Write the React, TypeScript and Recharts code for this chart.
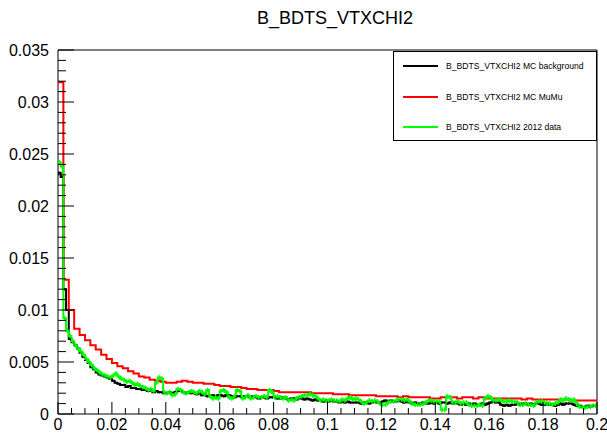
import React from 'react';
import { ComposedChart, Line, XAxis, YAxis, ReferenceArea, ErrorBar, Legend } from 'recharts';

// Histogram ranges and binning
const X_MAX = 0.2;
const Y_MAX = 0.035;
const FINE_BIN = 0.001; // MC background and 2012 data
const COARSE_BIN = 0.002; // MC MuMu

const TITLE = 'B_BDTS_VTXCHI2';
const NAME_BKG = 'B_BDTS_VTXCHI2 MC background';
const NAME_MUMU = 'B_BDTS_VTXCHI2 MC MuMu';
const NAME_DATA = 'B_BDTS_VTXCHI2 2012 data';
const LEGEND_ORDER = [NAME_BKG, NAME_MUMU, NAME_DATA];

// Major tick values (labels) on each axis
const X_MAJOR = [0, 0.02, 0.04, 0.06, 0.08, 0.1, 0.12, 0.14, 0.16, 0.18, 0.2];
const Y_MAJOR = [0, 0.005, 0.01, 0.015, 0.02, 0.025, 0.03, 0.035];

// MC background, 200 bins of 0.001
const mcBackground = [
  0.0232, 0.0228, 0.0120, 0.0100, 0.0072, 0.0069, 0.0066, 0.0063, 0.0059, 0.0055,
  0.0052, 0.0049, 0.0045, 0.0043, 0.0040, 0.0038, 0.0037, 0.0036, 0.0035, 0.0034,
  0.0032, 0.0030, 0.0029, 0.0028, 0.0028, 0.0026, 0.0027, 0.0025, 0.0025, 0.0024,
  0.0024, 0.0023, 0.0023, 0.0022, 0.0023, 0.0021, 0.0022, 0.0021, 0.0021, 0.0020,
  0.0020, 0.0021, 0.0020, 0.0021, 0.0022, 0.0022, 0.0021, 0.0020, 0.0021, 0.0020,
  0.0020, 0.0019, 0.0020, 0.0018, 0.0019, 0.0017, 0.0018, 0.0018, 0.0017, 0.0018,
  0.0018, 0.0017, 0.0018, 0.0018, 0.0017, 0.0016, 0.0017, 0.0017, 0.0016, 0.0017,
  0.0017, 0.0016, 0.0017, 0.0016, 0.0015, 0.0016, 0.0016, 0.0015, 0.0016, 0.0016,
  0.0016, 0.0015, 0.0015, 0.0016, 0.0015, 0.0014, 0.0015, 0.0015, 0.0014, 0.0015,
  0.0015, 0.0014, 0.0015, 0.0014, 0.0013, 0.0014, 0.0013, 0.0013, 0.0012, 0.0013,
  0.0012, 0.0013, 0.0012, 0.0012, 0.0011, 0.0012, 0.0011, 0.0012, 0.0011, 0.0011,
  0.0011, 0.0011, 0.0010, 0.0011, 0.0011, 0.0010, 0.0011, 0.0012, 0.0011, 0.0011,
  0.0012, 0.0013, 0.0012, 0.0013, 0.0012, 0.0012, 0.0013, 0.0012, 0.0011, 0.0012,
  0.0011, 0.0010, 0.0011, 0.0010, 0.0010, 0.0011, 0.0010, 0.0010, 0.0011, 0.0010,
  0.0011, 0.0010, 0.0011, 0.0011, 0.0010, 0.0011, 0.0010, 0.0011, 0.0010, 0.0009,
  0.0010, 0.0009, 0.0010, 0.0009, 0.0010, 0.0009, 0.0009, 0.0010, 0.0009, 0.0010,
  0.0011, 0.0012, 0.0011, 0.0011, 0.0009, 0.0008, 0.0009, 0.0008, 0.0009, 0.0009,
  0.0010, 0.0009, 0.0010, 0.0010, 0.0009, 0.0010, 0.0009, 0.0010, 0.0010, 0.0009,
  0.0009, 0.0010, 0.0009, 0.0009, 0.0008, 0.0009, 0.0010, 0.0009, 0.0010, 0.0010,
  0.0010, 0.0009, 0.0008, 0.0008, 0.0007, 0.0007, 0.0008, 0.0007, 0.0008, 0.0008,
];

// MC MuMu, 100 bins of 0.002
const mcMuMu = [
  0.0319, 0.0129, 0.0100, 0.0082, 0.0076, 0.0071, 0.0066, 0.0062, 0.0057, 0.0053,
  0.0049, 0.0046, 0.0044, 0.0041, 0.0039, 0.0036, 0.0035, 0.0033, 0.0032, 0.0031,
  0.0030, 0.0030, 0.0031, 0.0032, 0.0031, 0.0030, 0.0030, 0.0029, 0.0029, 0.0028,
  0.0027, 0.0027, 0.0026, 0.0026, 0.0025, 0.0024, 0.0024, 0.0023, 0.0023, 0.0023,
  0.0022, 0.0021, 0.0021, 0.0021, 0.0021, 0.0021, 0.0021, 0.0020, 0.0020, 0.0020,
  0.0020, 0.0019, 0.0019, 0.0019, 0.0018, 0.0018, 0.0018, 0.0018, 0.0018, 0.0017,
  0.0017, 0.0017, 0.0017, 0.0016, 0.0017, 0.0016, 0.0016, 0.0016, 0.0016, 0.0015,
  0.0015, 0.0016, 0.0016, 0.0016, 0.0015, 0.0016, 0.0016, 0.0015, 0.0016, 0.0015,
  0.0015, 0.0015, 0.0015, 0.0015, 0.0015, 0.0015, 0.0014, 0.0015, 0.0014, 0.0014,
  0.0014, 0.0014, 0.0014, 0.0014, 0.0014, 0.0013, 0.0013, 0.0013, 0.0013, 0.0013,
];

// 2012 data, 200 bins of 0.001
const data2012 = [
  0.0242, 0.0238, 0.0092, 0.0080, 0.0075, 0.0070, 0.0066, 0.0063, 0.0060, 0.0057,
  0.0053, 0.0050, 0.0047, 0.0044, 0.0042, 0.0040, 0.0038, 0.0037, 0.0036, 0.0035,
  0.0037, 0.0039, 0.0036, 0.0034, 0.0033, 0.0031, 0.0032, 0.0030, 0.0028, 0.0029,
  0.0027, 0.0026, 0.0025, 0.0023, 0.0024, 0.0022, 0.0030, 0.0035, 0.0034, 0.0021,
  0.0020, 0.0021, 0.0018, 0.0019, 0.0024, 0.0023, 0.0021, 0.0020, 0.0021, 0.0022,
  0.0021, 0.0020, 0.0022, 0.0021, 0.0019, 0.0023, 0.0017, 0.0015, 0.0016, 0.0015,
  0.0022, 0.0023, 0.0021, 0.0016, 0.0015, 0.0017, 0.0023, 0.0022, 0.0015, 0.0016,
  0.0018, 0.0015, 0.0016, 0.0017, 0.0016, 0.0016, 0.0017, 0.0016, 0.0023, 0.0021,
  0.0016, 0.0017, 0.0016, 0.0015, 0.0016, 0.0013, 0.0014, 0.0013, 0.0015, 0.0016,
  0.0017, 0.0018, 0.0018, 0.0019, 0.0018, 0.0017, 0.0015, 0.0013, 0.0014, 0.0013,
  0.0013, 0.0014, 0.0013, 0.0013, 0.0012, 0.0014, 0.0013, 0.0015, 0.0016, 0.0014,
  0.0015, 0.0014, 0.0012, 0.0010, 0.0011, 0.0013, 0.0012, 0.0013, 0.0012, 0.0010,
  0.0009, 0.0009, 0.0011, 0.0012, 0.0012, 0.0013, 0.0014, 0.0014, 0.0013, 0.0014,
  0.0012, 0.0010, 0.0009, 0.0009, 0.0009, 0.0010, 0.0011, 0.0013, 0.0013, 0.0012,
  0.0012, 0.0012, 0.0004, 0.0004, 0.0017, 0.0016, 0.0011, 0.0011, 0.0012, 0.0010,
  0.0011, 0.0011, 0.0009, 0.0008, 0.0008, 0.0008, 0.0009, 0.0008, 0.0015, 0.0017,
  0.0016, 0.0013, 0.0013, 0.0014, 0.0013, 0.0012, 0.0012, 0.0013, 0.0012, 0.0012,
  0.0011, 0.0009, 0.0009, 0.0010, 0.0009, 0.0009, 0.0008, 0.0011, 0.0012, 0.0012,
  0.0011, 0.0010, 0.0010, 0.0009, 0.0010, 0.0011, 0.0014, 0.0013, 0.0015, 0.0014,
  0.0013, 0.0014, 0.0010, 0.0007, 0.0007, 0.0006, 0.0007, 0.0007, 0.0008, 0.0008,
];
const DATA_ERR = 0.00022;
const BKG_ERR = 0.0001;

const COLORS = { bkg: '#000000', mumu: '#ff0000', data: '#00ff00' };
const FONT = '"Liberation Sans", Arial, Helvetica, sans-serif';

// Step outline: one point per lower bin edge plus the closing upper edge
function toSteps(values: number[], bin: number) {
  const pts = values.map((v, i) => ({ x: +(i * bin).toFixed(4), v }));
  pts.push({ x: +(values.length * bin).toFixed(4), v: values[values.length - 1] });
  return pts;
}

// Bin centres carrying the uncertainty for the error bars
function toCentres(values: number[], bin: number, err: number) {
  return values.map((v, i) => ({ x: +((i + 0.5) * bin).toFixed(5), v, e: err }));
}

// Minor tick subdivisions between major ticks
function subdivide(major: number[], parts: number) {
  const out: number[] = [];
  for (let i = 0; i < major.length - 1; i++) {
    const step = (major[i + 1] - major[i]) / parts;
    for (let k = 0; k < parts; k++) out.push(+(major[i] + k * step).toFixed(5));
  }
  out.push(major[major.length - 1]);
  return out;
}

const X_TICKS = subdivide(X_MAJOR, 4);
const Y_TICKS = subdivide(Y_MAJOR, 5);

const bkgSteps = toSteps(mcBackground, FINE_BIN);
const mumuSteps = toSteps(mcMuMu, COARSE_BIN);
const dataSteps = toSteps(data2012, FINE_BIN);
const dataCentres = toCentres(data2012, FINE_BIN, DATA_ERR);
const bkgCentres = toCentres(mcBackground, FINE_BIN, BKG_ERR);

const isMajor = (v: number, list: number[]) => list.some((m) => Math.abs(m - v) < 1e-7);
const fmt = (v: number) => String(Number(v.toFixed(4)));

function YTick(props: any) {
  const { x, y, payload } = props;
  const major = isMajor(payload.value, Y_MAJOR);
  return (
    <g>
      <line x1={x} x2={x + (major ? 16 : 8)} y1={y} y2={y} stroke="#000" strokeWidth={1} />
      {major && (
        <text x={x - 9} y={y} dy={5.5} textAnchor="end" fontSize={16} fontFamily={FONT} fill="#000">
          {fmt(payload.value)}
        </text>
      )}
    </g>
  );
}

function XTick(props: any) {
  const { x, y, payload } = props;
  const major = isMajor(payload.value, X_MAJOR);
  return (
    <g>
      <line x1={x} x2={x} y1={y} y2={y - (major ? 12 : 6)} stroke="#000" strokeWidth={1} />
      {major && (
        <text x={x} y={y + 16} textAnchor="middle" fontSize={16} fontFamily={FONT} fill="#000">
          {fmt(payload.value)}
        </text>
      )}
    </g>
  );
}

function LegendBox(props: any) {
  const items = (props.payload || [])
    .filter((p: any) => LEGEND_ORDER.includes(p.value))
    .sort((a: any, b: any) => LEGEND_ORDER.indexOf(a.value) - LEGEND_ORDER.indexOf(b.value));
  return (
    <div
      style={{
        width: 204,
        height: 90,
        boxSizing: 'border-box',
        border: '1px solid #000',
        background: '#fff',
        position: 'relative',
        fontFamily: FONT,
      }}
    >
      {items.map((p: any, i: number) => (
        <div
          key={p.value}
          style={{ position: 'absolute', left: 9, top: 14 + i * 30.5, height: 0, display: 'flex', alignItems: 'center' }}
        >
          <div style={{ width: 35, height: 2, background: p.color }} />
          <span style={{ marginLeft: 8, fontSize: 8.6, color: '#000', whiteSpace: 'nowrap' }}>{p.value}</span>
        </div>
      ))}
    </div>
  );
}

export default function App() {
  return (
    <div style={{ position: 'absolute', left: 0, top: 0, width: 607, height: 433, background: '#fff' }}>
      <div
        style={{
          position: 'absolute',
          left: 335,
          top: 8,
          transform: 'translateX(-50%)',
          whiteSpace: 'nowrap',
          fontFamily: FONT,
          fontSize: 18,
          color: '#000',
          lineHeight: '20px',
        }}
      >
        {TITLE}
      </div>
      <ComposedChart width={607} height={433} margin={{ top: 50, right: 10, left: 0, bottom: 0 }}>
        <XAxis
          type="number"
          dataKey="x"
          domain={[0, X_MAX]}
          ticks={X_TICKS}
          interval={0}
          allowDataOverflow
          height={19}
          tickLine={false}
          axisLine={false}
          tickSize={0}
          tickMargin={0}
          tick={<XTick />}
        />
        <YAxis
          type="number"
          domain={[0, Y_MAX]}
          ticks={Y_TICKS}
          interval={0}
          allowDataOverflow
          width={58}
          tickLine={false}
          axisLine={false}
          tickSize={0}
          tickMargin={0}
          tick={<YTick />}
        />
        <Line
          data={bkgSteps}
          dataKey="v"
          name={NAME_BKG}
          type="stepAfter"
          stroke={COLORS.bkg}
          strokeWidth={2}
          dot={false}
          activeDot={false}
          isAnimationActive={false}
        />
        <Line
          data={mumuSteps}
          dataKey="v"
          name={NAME_MUMU}
          type="stepAfter"
          stroke={COLORS.mumu}
          strokeWidth={2}
          dot={false}
          activeDot={false}
          isAnimationActive={false}
        />
        <Line
          data={dataSteps}
          dataKey="v"
          name={NAME_DATA}
          type="stepAfter"
          stroke={COLORS.data}
          strokeWidth={2}
          dot={false}
          activeDot={false}
          isAnimationActive={false}
        />
        <Line
          data={bkgCentres}
          dataKey="v"
          name="bkg-err"
          legendType="none"
          stroke="none"
          dot={false}
          activeDot={false}
          isAnimationActive={false}
        >
          <ErrorBar dataKey="e" width={0} stroke={COLORS.bkg} strokeWidth={1.5} direction="y" isAnimationActive={false} />
        </Line>
        <Line
          data={dataCentres}
          dataKey="v"
          name="data-err"
          legendType="none"
          stroke="none"
          dot={false}
          activeDot={false}
          isAnimationActive={false}
        >
          <ErrorBar dataKey="e" width={0} stroke={COLORS.data} strokeWidth={1.5} direction="y" isAnimationActive={false} />
        </Line>
        <ReferenceArea x1={0} x2={X_MAX} y1={0} y2={Y_MAX} fill="none" stroke="#000" strokeWidth={1} />
        <Legend
          layout="horizontal"
          verticalAlign="middle"
          align="center"
          wrapperStyle={{ position: 'absolute', left: 393, top: 51, width: 204, height: 90 }}
          content={<LegendBox />}
        />
      </ComposedChart>
    </div>
  );
}
